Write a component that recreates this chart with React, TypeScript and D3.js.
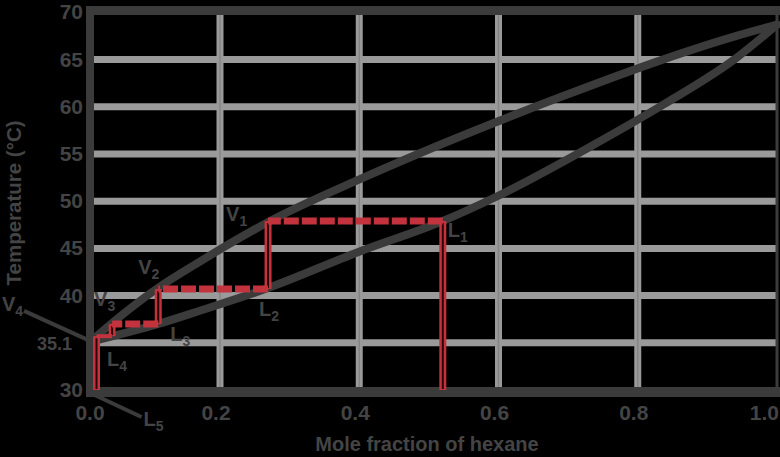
import React from 'react';
import * as d3 from 'd3';

const W = 780;
const H = 457;

// Axis ticks
const xTicks = [0, 0.2, 0.4, 0.6, 0.8, 1.0];
const xTickLabels = ['0.0', '0.2', '0.4', '0.6', '0.8', '1.0'];
const yTicks = [30, 35, 40, 45, 50, 55, 60, 65, 70];
const yTickLabels = ['30', '35.1', '40', '45', '50', '55', '60', '65', '70'];
const yGrid = [35, 40, 45, 50, 55, 60, 65];
const xGrid = [0.2, 0.4, 0.6, 0.8];

// Vapour (dew) curve
const vaporX = [0, 0.034, 0.1, 0.169, 0.272, 0.397, 0.688, 0.836, 0.937, 1.0];
const vaporT = [35.1, 37.1, 40.6, 43.6, 47.9, 52.2, 61.0, 65.0, 67.4, 68.7];

// Liquid (bubble) curve
const liquidX = [0, 0.105, 0.169, 0.265, 0.398, 0.52, 0.599, 0.736, 0.836, 0.942, 1.0];
const liquidT = [35.1, 37.0, 38.4, 40.7, 44.6, 47.9, 50.55, 55.95, 60.2, 65.2, 68.7];

// Staircase construction
const stepX = [0.52, 0.269, 0.105, 0.034, 0.01];
const stepT = [47.9, 40.7, 37.0, 35.7];

// Annotation labels
const annotNames = ['V', 'L', 'V', 'L', 'V', 'L', 'V', 'L', 'L'];
const annotSubs = ['1', '1', '2', '2', '3', '3', '4', '4', '5'];
const annotX = [0.269, 0.52, 0.105, 0.269, 0.034, 0.105, 0, 0.034, 0.01];
const annotT = [47.9, 47.9, 40.7, 40.7, 37.0, 37.0, 35.1, 35.7, 30];

// styles (pixel offsets for labels)
const annotOffsets: [number, number][] = [
  [-42, 0], [5, 16], [-20, -15], [-9, 27], [-18, -18], [12, 17], [-88, -31], [-5, 30], [47, 36],
];

const DARK = '#3b3b3b';
const TEXT = '#444444';
const GRID = '#9a9a9a';
const RED = '#c3333e';
const FONT = '"Liberation Sans", Arial, sans-serif';

export default function App() {
  const x = d3.scaleLinear().domain([0, 0.2, 1]).range([90, 220, 777]);
  const y = d3.scaleLinear().domain([30, 70]).range([390, 12.4]);

  const line = d3
    .line<[number, number]>()
    .x((d) => x(d[0]))
    .y((d) => y(d[1]))
    .curve(d3.curveMonotoneX);

  const vapor = line(vaporX.map((v, i) => [v, vaporT[i]] as [number, number])) || '';
  const liquid = line(liquidX.map((v, i) => [v, liquidT[i]] as [number, number])) || '';

  const plotLeft = 94;
  const plotRight = 777;
  const plotTop = 15;
  const plotBottom = 387;

  const dashed = stepT.map((t, i) => ({
    x1: x(stepX[i]),
    x2: x(stepX[i + 1]),
    y: y(t),
    dash: i < 3,
  }));
  const verticals: { x: number; y1: number; y2: number }[] = [];
  verticals.push({ x: x(stepX[0]), y1: y(stepT[0]), y2: y(30) });
  for (let i = 0; i < 3; i++) {
    verticals.push({ x: x(stepX[i + 1]), y1: y(stepT[i]), y2: y(stepT[i + 1]) });
  }
  verticals.push({ x: x(stepX[4]), y1: y(stepT[3]), y2: y(30) });

  const v4x = x(annotX[6]);
  const v4y = y(annotT[6]);
  const l5x = x(annotX[8]);
  const l5y = y(annotT[8]);

  return (
    <>
      <style>{`body{margin:0;background:#000;}`}</style>
      <svg width={W} height={H} style={{ display: 'block', background: '#000' }}>
        <rect x={0} y={0} width={W} height={H} fill="#000" />

        {yGrid.map((t) => (
          <line key={'hg' + t} x1={plotLeft} x2={plotRight} y1={y(t)} y2={y(t)} stroke={GRID} strokeWidth={7} />
        ))}
        {xGrid.map((v) => (
          <g key={'vg' + v}>
            <line x1={x(v)} x2={x(v)} y1={plotTop} y2={plotBottom} stroke={GRID} strokeWidth={7} />
            <line x1={x(v)} x2={x(v)} y1={plotTop} y2={plotBottom} stroke="#858585" strokeWidth={1.5} />
          </g>
        ))}

        <rect x={86} y={6} width={W - 86} height={9} fill={DARK} />
        <rect x={86} y={387} width={W - 86} height={10} fill={DARK} />
        <rect x={86} y={6} width={8} height={391} fill={DARK} />
        <rect x={775.5} y={6} width={3} height={391} fill={DARK} />

        <path d={vapor} fill="none" stroke={DARK} strokeWidth={8} strokeLinecap="round" />
        <path d={liquid} fill="none" stroke={DARK} strokeWidth={8} strokeLinecap="round" />

        <line x1={v4x} y1={v4y - 1} x2={v4x - 66} y2={v4y - 31} stroke={DARK} strokeWidth={4} />
        <line x1={l5x - 4} y1={l5y + 4} x2={l5x + 45} y2={l5y + 27} stroke={DARK} strokeWidth={4} />

        {verticals.map((s, i) => (
          <g key={'vr' + i}>
            <line x1={s.x} x2={s.x} y1={s.y1} y2={s.y2} stroke={RED} strokeWidth={7} />
            <line x1={s.x} x2={s.x} y1={s.y1 + 2} y2={s.y2 - 1} stroke="#2a0608" strokeWidth={2} />
          </g>
        ))}
        {dashed.map((s, i) => (
          <line
            key={'hr' + i}
            x1={s.x1}
            x2={s.x2}
            y1={s.y}
            y2={s.y}
            stroke={RED}
            strokeWidth={s.dash ? 7 : 4}
            strokeDasharray={s.dash ? '15 3' : undefined}
          />
        ))}

        {yTicks.map((t, i) => {
          const small = yTickLabels[i].length > 2;
          return (
            <text
              key={'yt' + t}
              x={small ? 72 : 83}
              y={y(t) + 7}
              textAnchor="end"
              fontFamily={FONT}
              fontWeight="bold"
              fontSize={small ? 18 : 21}
              fill={TEXT}
            >
              {yTickLabels[i]}
            </text>
          );
        })}

        {xTicks.map((v, i) => {
          const last = i === xTicks.length - 1;
          return (
            <text
              key={'xt' + v}
              x={last ? 779 : x(v) - (i === 0 ? 0 : 4)}
              y={420}
              textAnchor={last ? 'end' : 'middle'}
              fontFamily={FONT}
              fontWeight="bold"
              fontSize={21}
              fill={TEXT}
            >
              {xTickLabels[i]}
            </text>
          );
        })}

        <text x={427} y={451} textAnchor="middle" fontFamily={FONT} fontWeight="bold" fontSize={20} fill={TEXT}>
          Mole fraction of hexane
        </text>
        <text
          transform="translate(21,203) rotate(-90)"
          textAnchor="middle"
          fontFamily={FONT}
          fontWeight="bold"
          fontSize={20.5}
          fill={TEXT}
        >
          Temperature (°C)
        </text>

        {annotNames.map((n, i) => (
          <text
            key={'an' + i}
            x={x(annotX[i]) + annotOffsets[i][0]}
            y={y(annotT[i]) + annotOffsets[i][1]}
            fontFamily={FONT}
            fontWeight="bold"
            fontSize={20}
            fill={TEXT}
          >
            {n}
            <tspan fontSize={14} dy={5}>
              {annotSubs[i]}
            </tspan>
          </text>
        ))}
      </svg>
    </>
  );
}
